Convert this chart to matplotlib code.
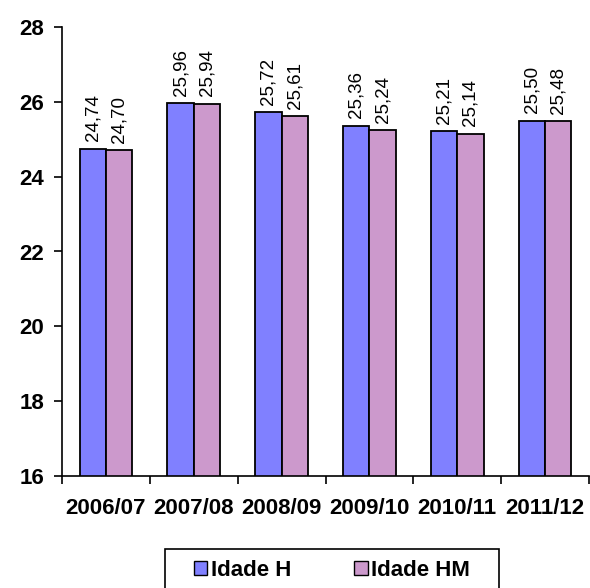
import matplotlib

matplotlib.use("Agg")
import matplotlib.pyplot as plt
import numpy as np
from matplotlib.patches import Patch, Rectangle

years = ["2006/07", "2007/08", "2008/09", "2009/10", "2010/11", "2011/12"]
idade_h = [24.74, 25.96, 25.72, 25.36, 25.21, 25.50]
idade_hm = [24.70, 25.94, 25.61, 25.24, 25.14, 25.48]

plt.rcParams["font.family"] = ["Liberation Sans", "DejaVu Sans"]

W, H = 590, 588
fig = plt.figure(figsize=(W / 100, H / 100), dpi=100)
ax = fig.add_axes([62 / W, 1 - 476 / H, (589 - 62) / W, (476 - 27) / H])

x = np.arange(len(years))
bw = 0.3
c_h, c_hm = "#8080FF", "#CC99CC"
b1 = ax.bar(x - bw / 2, idade_h, bw, color=c_h, edgecolor="black", lw=1.3)
b2 = ax.bar(x + bw / 2, idade_hm, bw, color=c_hm, edgecolor="black", lw=1.3)

def fmt(v):
    return f"{v:.2f}".replace(".", ",")

for bars, vals in ((b1, idade_h), (b2, idade_hm)):
    for b, v in zip(bars, vals):
        ax.annotate(fmt(v), (b.get_x() + b.get_width() / 2, v),
                    xytext=(0, 5.5), textcoords="offset points",
                    rotation=90, ha="center", va="bottom", fontsize=13.5)

ax.set_ylim(16, 28)
ax.set_xlim(-0.5, len(years) - 0.5)
ax.set_yticks(np.arange(16, 29, 2))
ax.set_xticks(np.arange(-0.5, len(years), 1))
ax.set_xticklabels([])
ax.set_xticks(x, minor=True)
ax.set_xticklabels(years, minor=True, fontsize=16, fontweight="bold")
ax.tick_params(axis="x", which="minor", length=0, pad=16)
ax.tick_params(axis="x", which="major", direction="out", length=6, width=1.2)
ax.tick_params(axis="y", direction="out", length=6, width=1.2, pad=7,
               labelsize=16)
for lab in ax.get_yticklabels():
    lab.set_fontweight("bold")

for s in ("top", "right"):
    ax.spines[s].set_visible(False)
for s in ("left", "bottom"):
    ax.spines[s].set_linewidth(1.2)

# legend box runs off the bottom edge, as in the source image
fig.patches.append(Rectangle((165 / W, -0.02), (499 - 165) / W, 0.02 + 1 - 549 / H,
                             transform=fig.transFigure, fill=False,
                             edgecolor="black", lw=1.2))
handles = [Patch(facecolor=c_h, edgecolor="black", label="Idade H"),
           Patch(facecolor=c_hm, edgecolor="black", label="Idade HM")]
leg = fig.legend(handles=handles, loc="center left",
                 bbox_to_anchor=(194 / W, 1 - 570 / H), ncol=2,
                 frameon=False, prop={"size": 16, "weight": "bold"},
                 handlelength=0.6, handleheight=0.6, handletextpad=0.15,
                 columnspacing=2.85, borderpad=0, borderaxespad=0)

fig.savefig("out.png", dpi=100)
